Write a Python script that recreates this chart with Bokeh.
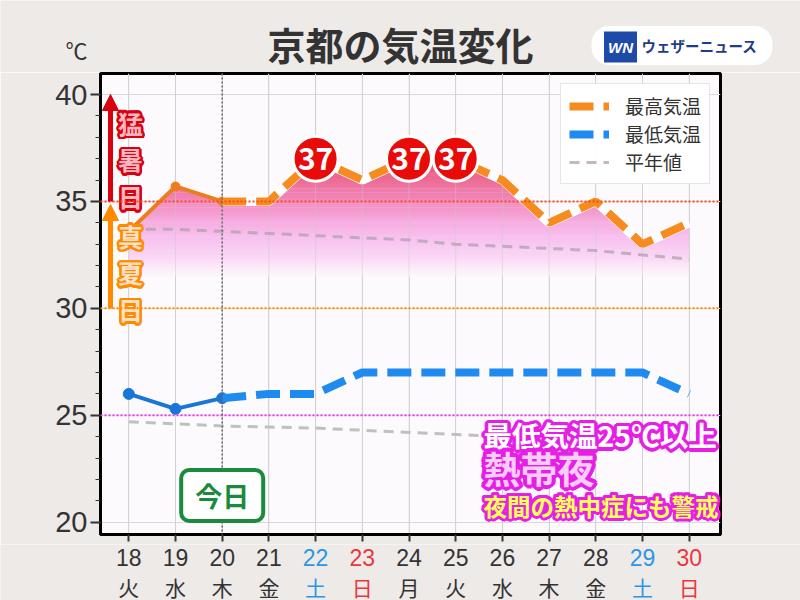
import numpy as np
from bokeh.plotting import figure
from bokeh.layouts import column
from bokeh.models import (Range1d, FixedTicker, Span, Label, ColumnDataSource,
                          Arrow, NormalHead, Legend, LegendItem)
from bokeh.core.properties import value
from bokeh.embed import file_html
from bokeh.resources import INLINE

# ---------------- data ----------------
days = [18, 19, 20, 21, 22, 23, 24, 25, 26, 27, 28, 29, 30]
weekdays = ["火", "水", "木", "金", "土", "日", "月", "火", "水", "木", "金", "土", "日"]
max_temp = [33.6, 35.7, 35.0, 35, 37, 36, 37, 37, 36, 34, 35, 33, 34]
min_temp = [26.0, 25.3, 25.8, 26, 26, 27, 27, 27, 27, 27, 27, 27, 26]
normal_max = [33.7, 33.7, 33.6, 33.5, 33.4, 33.3, 33.2, 33.0, 32.9, 32.8, 32.7, 32.5, 32.3]
normal_min = [24.7, 24.6, 24.5, 24.45, 24.4, 24.3, 24.2, 24.1, 24.0, 23.9, 23.8, 23.75, 23.7]
n_obs = 3            # 18, 19, 20 observed; forecast from 20 on
today = 20
y_ticks = [20, 25, 30, 35, 40]
mousho, manatsu, nettaiya, top_tick = 35, 30, 25, 40
badge_level = 37

JP = "Noto Sans CJK JP"
OUTER = "#eeeae8"

# ---------------- geometry ----------------
W = 800
TOP_H, MAIN_H = 72, 472
BOT_H = 600 - TOP_H - MAIN_H
FL, FR, FT, FB = 100, 720, 73, 534   # frame in page pixels
X18, X30 = 128.3, 688.7              # pixel positions of first / last day
Y40, Y20 = 94.0, 521.7               # pixel positions of 40 and 20 degrees
sx = (X30 - X18) / (days[-1] - days[0])
sy = (Y20 - Y40) / (top_tick - y_ticks[0])
XR = (days[0] - (X18 - FL) / sx, days[-1] + (FR - X30) / sx)
YR = (y_ticks[0] - (FB - Y20) / sy, top_tick + (Y40 - FT) / sy)


def rx(px):
    return XR[0] + (px - FL) / sx


def ry(py):
    return YR[0] + (FB - py) / sy


def blank(fig):
    fig.frame_align = False
    fig.axis.visible = False
    fig.grid.visible = False
    fig.outline_line_color = None
    fig.background_fill_color = OUTER
    fig.border_fill_color = OUTER


# ---------------- top strip: title, unit, logo ----------------
top = figure(width=W, height=TOP_H, x_range=Range1d(0, W), y_range=Range1d(TOP_H, 0),
             output_backend="svg", toolbar_location=None,
             min_border_left=0, min_border_right=0, min_border_top=0, min_border_bottom=0)
blank(top)
top.add_layout(Label(x=400, y=43, text="京都の気温変化", text_font=JP,
                     text_font_style="bold", text_font_size="38px", text_color="#333333",
                     text_align="center", text_baseline="middle"))
top.add_layout(Label(x=76, y=48, text="℃", text_font=JP, text_font_size="22px",
                     text_color="#333333", text_align="center", text_baseline="middle"))
top.add_layout(Label(x=591, y=45, text="ウェザーニュース", text_font=JP,
                     text_font_style="bold", text_font_size="14.5px", text_color="#1e3c8c",
                     text_align="left", text_baseline="middle", background_fill_color="white",
                     border_radius=18, padding=dict(left=50, right=15, top=9, bottom=9)))
top.add_layout(Label(x=620, y=46.5, text="WN", text_font="Liberation Sans",
                     text_font_style="bold italic", text_font_size="15px", text_color="white",
                     text_align="center", text_baseline="middle", background_fill_color="#1e4aa8",
                     padding=dict(left=4, right=4, top=7, bottom=7)))

# ---------------- main chart ----------------
p = figure(width=W, height=MAIN_H, x_range=Range1d(*XR), y_range=Range1d(*YR),
           output_backend="svg", toolbar_location=None,
           min_border_left=FL, min_border_right=W - FR, min_border_top=FT - TOP_H,
           min_border_bottom=MAIN_H - (FT - TOP_H) - (FB - FT))
p.background_fill_color = "#fcfafc"
p.border_fill_color = OUTER
p.outline_line_color = "black"
p.outline_line_width = 3

p.yaxis.ticker = FixedTicker(ticks=y_ticks, minor_ticks=list(range(20, 41)))
p.yaxis.major_label_text_font = "Liberation Sans"
p.yaxis.major_label_text_font_size = "29px"
p.yaxis.major_label_text_color = "#333333"
p.yaxis.major_tick_out = 10
p.yaxis.major_tick_in = 0
p.yaxis.minor_tick_out = 5
p.yaxis.minor_tick_in = 0
p.yaxis.major_tick_line_width = 2
p.yaxis.major_label_standoff = 3
p.yaxis.axis_line_width = 3
p.yaxis.axis_line_color = "black"
p.yaxis.major_tick_line_color = "#333333"
p.yaxis.minor_tick_line_color = "#333333"

p.xaxis.ticker = FixedTicker(ticks=days)
p.xaxis.major_label_overrides = {d: "" for d in days}
p.xaxis.major_label_text_font_size = "1px"
p.xaxis.major_label_standoff = 0
p.xaxis.major_tick_out = 7
p.xaxis.major_tick_in = 0
p.xaxis.major_tick_line_width = 2
p.xaxis.major_tick_line_color = "#333333"
p.xaxis.minor_tick_line_color = None
p.xaxis.axis_line_width = 3
p.xaxis.axis_line_color = "black"

p.xgrid.ticker = FixedTicker(ticks=days)
p.xgrid.grid_line_color = "#d9d9d9"
p.ygrid.ticker = FixedTicker(ticks=y_ticks)
p.ygrid.grid_line_color = "#d9d9d9"

# gradient fill under max temperature
xs = np.linspace(days[0], days[-1], 481)
line = np.interp(xs, days, max_temp)
stops_v = [31.5, 32.0, 32.5, 33.2, 34.0, 35.0, 36.2, 37.4, 38.5]
stops_c = [(252, 248, 252), (252, 230, 249), (250, 212, 245), (248, 196, 240),
           (247, 174, 226), (242, 138, 190), (236, 102, 142), (230, 76, 108), (224, 54, 86)]


def color_at(v):
    r = int(np.interp(v, stops_v, [c[0] for c in stops_c]))
    g = int(np.interp(v, stops_v, [c[1] for c in stops_c]))
    b = int(np.interp(v, stops_v, [c[2] for c in stops_c]))
    return "#%02x%02x%02x" % (r, g, b)


for lo in np.arange(31.5, 38.6, 0.1):
    if (line > lo).any():
        p.varea(x=xs, y1=np.minimum(line, lo), y2=np.minimum(line, lo + 0.12),
                fill_color=color_at(lo + 0.05))

# vertical grid visible through the fill
p.segment(x0=days, y0=[YR[0]] * len(days), x1=days, y1=[YR[1]] * len(days),
          line_color="#c8c8c8", line_alpha=0.45, line_width=1)

# normal lines
r_nmax = p.line(days, normal_max, line_color="#b0a0b0", line_alpha=0.75, line_width=3, line_dash="10 7")
p.line(days, normal_min, line_color="#c0c0c0", line_width=3, line_dash="10 7")

# reference lines
p.add_layout(Span(location=mousho, dimension="width", line_color="#ff4a1c", line_dash="2 2", line_width=2))
p.add_layout(Span(location=manatsu, dimension="width", line_color="#ff8c00", line_dash="2 2", line_width=2))
p.add_layout(Span(location=nettaiya, dimension="width", line_color="#ee3cee", line_dash="2 2", line_width=2))
p.add_layout(Span(location=today, dimension="height", line_color="#666666", line_dash="2 2", line_width=1.5))

# max / min lines
p.line(days[:n_obs], max_temp[:n_obs], line_color="#ec7d1c", line_width=4)
p.scatter(days[:n_obs], max_temp[:n_obs], size=9, color="#ec7d1c")
p.line(days[n_obs - 1:], max_temp[n_obs - 1:], line_color="white", line_width=9)
r_maxf = p.line(days[n_obs - 1:], max_temp[n_obs - 1:], line_color="#f68b1f", line_width=8, line_dash="24 10")

p.line(days[:n_obs], min_temp[:n_obs], line_color="#1976d8", line_width=4)
p.scatter(days[:n_obs], min_temp[:n_obs], size=11, color="#1976d8")
r_minf = p.line(days[n_obs - 1:], min_temp[n_obs - 1:], line_color="#1f8bf0", line_width=8, line_dash="24 10")

# 37 badges
bx = [d for d, t in zip(days, max_temp) if t >= badge_level]
by = [t for t in max_temp if t >= badge_level]
bt = ["%d" % t for t in by]
p.scatter(bx, by, size=45, fill_color="#e90a0a", line_color="white", line_width=3)
p.text(bx, by, text=bt, text_color="white", text_font=value(JP), text_font_style="bold",
       text_font_size="30px", text_align="center", text_baseline="middle")


def outlined(x, y, text, size, fill, stroke, r, align="center", lh=1.2, steps=16):
    offs = []
    for k in range(steps):
        a = 2 * np.pi * k / steps
        offs.append((r * np.cos(a), r * np.sin(a)))
    for k in range(steps // 2):
        a = 2 * np.pi * k / (steps // 2) + 0.2
        offs.append((r * 0.55 * np.cos(a), r * 0.55 * np.sin(a)))
    n = len(offs)
    src = ColumnDataSource(dict(x=[x] * n, y=[y] * n, t=[text] * n,
                                dx=[o[0] for o in offs], dy=[o[1] for o in offs]))
    common = dict(text_font=value(JP), text_font_style="bold", text_font_size="%gpx" % size,
                  text_align=align, text_baseline="middle", text_line_height=lh)
    p.text(x="x", y="y", text="t", x_offset="dx", y_offset="dy", source=src,
           text_color=stroke, **common)
    p.text(x=[x], y=[y], text=[text], text_color=fill, **common)


red, orange = "#d9000f", "#ff8a00"
p.add_layout(Arrow(end=NormalHead(size=16, fill_color=red, line_color=red),
                   x_start=rx(110), y_start=mousho, x_end=rx(110), y_end=top_tick,
                   line_color=red, line_width=5))
p.add_layout(Arrow(end=NormalHead(size=16, fill_color=orange, line_color=orange),
                   x_start=rx(110), y_start=manatsu, x_end=rx(110), y_end=ry(204),
                   line_color=orange, line_width=5))
outlined(rx(130), ry(159), "猛\n暑\n日", 25, "#ffb6bf", red, 2.5, lh=1.02)
outlined(rx(130), ry(272), "真\n夏\n日", 25, "#ffe0c4", orange, 2.5, lh=1.02)

MAG = "#e61ee6"
outlined(rx(483), ry(434), "最低気温25℃以上", 28.5, "white", MAG, 3.5, align="left")
outlined(rx(483), ry(467), "熱帯夜", 37, "#f9cdf9", MAG, 4, align="left")
outlined(rx(483), ry(505), "夜間の熱中症にも警戒", 23.5, "#ffff5a", MAG, 3, align="left")

p.add_layout(Label(x=today, y=ry(495), text="今日", text_font=JP, text_font_style="bold",
                   text_font_size="27px", text_color="#1a8a3c", text_align="center",
                   text_baseline="middle", background_fill_color="white",
                   border_line_color="#1a8a3c", border_line_width=4, border_radius=8,
                   padding=dict(left=14, right=14, top=6, bottom=6)))

legend = Legend(items=[LegendItem(label="最高気温", renderers=[r_maxf]),
                       LegendItem(label="最低気温", renderers=[r_minf]),
                       LegendItem(label="平年値", renderers=[r_nmax])],
                location="top_right", label_text_font=JP, label_text_font_size="19px",
                label_text_color="#333333", border_line_color="#cccccc", border_line_width=1,
                background_fill_color="white", background_fill_alpha=0.95,
                padding=8, spacing=1, margin=10, glyph_width=40, glyph_height=26,
                label_standoff=16, label_height=26)
p.add_layout(legend)

# ---------------- bottom strip: coloured date labels ----------------
bot = figure(width=W, height=BOT_H, x_range=Range1d(rx(0), rx(W)), y_range=Range1d(BOT_H, 0),
             output_backend="svg", toolbar_location=None,
             min_border_left=0, min_border_right=0, min_border_top=0, min_border_bottom=0)
blank(bot)
y0 = TOP_H + MAIN_H
day_colors = ["#2a96e6" if w == "土" else "#e8383d" if w == "日" else "#333333" for w in weekdays]
xsrc = ColumnDataSource(dict(x=days, num=[str(d) for d in days], wd=weekdays, c=day_colors))
bot.text(x="x", y=557 - y0, text="num", source=xsrc, text_color="c",
         text_font=value("Liberation Sans"), text_font_size="23px",
         text_align="center", text_baseline="middle")
bot.text(x="x", y=586 - y0, text="wd", source=xsrc, text_color="c",
         text_font=value(JP), text_font_size="21px",
         text_align="center", text_baseline="middle")

layout = column(top, p, bot, spacing=0)
open("out.html", "w").write(file_html(layout, INLINE))
